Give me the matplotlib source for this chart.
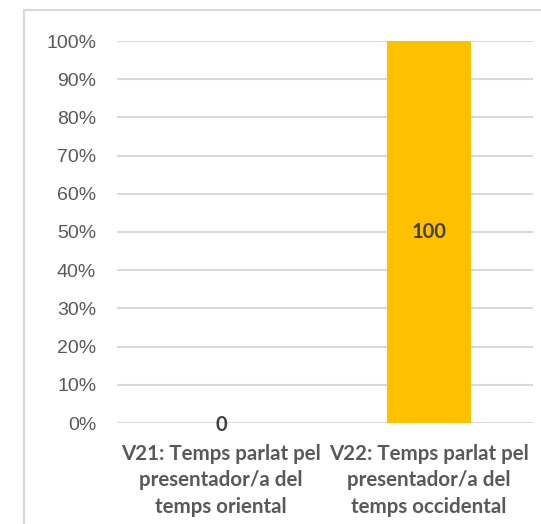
import matplotlib
matplotlib.use("Agg")
import matplotlib.pyplot as plt
from matplotlib.patches import Rectangle

categories = ["V21: Temps parlat pel\npresentador/a del\ntemps oriental",
              "V22: Temps parlat pel\npresentador/a del\ntemps occidental"]
values = [0, 100]
y_ticks = [0, 10, 20, 30, 40, 50, 60, 70, 80, 90, 100]

grey = "#595959"
fig = plt.figure(figsize=(5.41, 5.24), dpi=100)
ax = fig.add_axes([117 / 541, 1 - 423 / 524, 416 / 541, 382 / 524])

# light frame around the chart area
fig.patches.append(Rectangle((23.5 / 541, -0.1), 1.2, (524 - 9.5) / 524 + 0.1,
                             transform=fig.transFigure, fill=False,
                             edgecolor="#D9D9D9", linewidth=1.5))

x = range(len(categories))
bars = ax.bar(x, values, width=0.4, color="#FFC000", zorder=2)
ax.set_xlim(-0.5, 1.5)
ax.set_ylim(0, 100)

for xi, v in zip(x, values):
    y = v / 2 if v > 0 else -0.5
    ax.text(xi, y, f"{v}", ha="center", va="center", fontsize=14.5,
            fontweight="bold", color="#404040", family="Lato", zorder=3)

ax.set_yticks(y_ticks)
ax.set_yticklabels([f"{t}%" for t in y_ticks], fontsize=14, color=grey,
                   family="Liberation Sans")
ax.set_xticks(list(x))
ax.set_xticklabels(categories, fontsize=14.8, fontweight="bold", color=grey,
                   family="Lato", linespacing=1.4)
ax.tick_params(axis="y", length=0, pad=15)
ax.tick_params(axis="x", length=0, pad=15)
ax.grid(axis="y", color="#D9D9D9", linewidth=1.5, zorder=0)
for s in ax.spines.values():
    s.set_visible(False)

fig.savefig("out.png", dpi=100)
